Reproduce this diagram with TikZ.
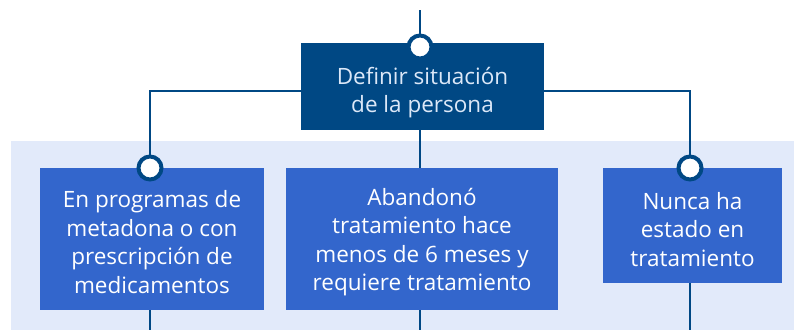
\documentclass[tikz,border=0pt]{standalone}
\usepackage{fontspec}
\setmainfont{Open Sans}
\definecolor{darkb}{HTML}{004884}
\definecolor{midb}{HTML}{3366CC}
\definecolor{bgb}{HTML}{E2EAFA}
\definecolor{lighttxt}{HTML}{DCE8F8}
\begin{document}
\begin{tikzpicture}[x=1pt,y=-1pt,
  conn/.style={draw=darkb,line width=2.6pt},
  boxa/.style={fill=darkb,inner sep=0pt},
  boxb/.style={fill=midb,inner sep=0pt},
  txta/.style={text=lighttxt,align=center,font=\fontsize{22.5}{28.5}\selectfont,inner sep=0pt},
  txtb/.style={text=white,align=center,font=\fontsize{22.5}{28.5}\selectfont,inner sep=0pt},
  knob/.style={circle,fill=white,draw=darkb,line width=4pt,minimum size=23pt,inner sep=0pt}]
\useasboundingbox (0,0) rectangle (794,330);
\fill[bgb] (11,141) rectangle (794,330);
\node[boxa,minimum width=243pt,minimum height=87pt] (top) at (422.5,86.5) {};
\node[boxb,minimum width=224pt,minimum height=142pt] (left) at (152,239) {};
\node[boxb,minimum width=272pt,minimum height=142pt] (mid) at (422,239) {};
\node[boxb,minimum width=179pt,minimum height=115pt] (right) at (692.5,225.5) {};
\node[txta] (toptxt) at ([yshift=-6pt]top.center) {Definir situación\\de la persona};
\node[txtb] (lefttxt) at ([yshift=-3pt]left.center) {En programas de\\metadona o con\\prescripción de\\medicamentos};
\node[txtb] (midtxt) at ([yshift=-3pt]mid.center) {Abandonó\\tratamiento hace\\menos de 6 meses y\\requiere tratamiento};
\node[txtb] (righttxt) at ([yshift=-4pt]right.center) {Nunca ha\\estado en\\tratamiento};
\coordinate (in) at (420,10);
\coordinate (lo) at (150,330);
\coordinate (mo) at (420,330);
\coordinate (ro) at (690,330);
\coordinate (topk) at (420,47);
\coordinate (leftk) at (150,168);
\coordinate (rightk) at (690,168);
\draw[conn] (in) -- (topk);
\draw[conn] (top.west |- 0,91) -| (leftk);
\draw[conn] (top.east |- 0,91) -| (rightk);
\draw[conn] (top.south -| 420,0) -- (mid.north -| 420,0);
\draw[conn] (left.south -| 150,0) -- (lo);
\draw[conn] (mid.south -| 420,0) -- (mo);
\draw[conn] (right.south -| 690,0) -- (ro);
\node[knob] (k1) at (topk) {};
\node[knob] (k2) at (leftk) {};
\node[knob] (k3) at (rightk) {};
\end{tikzpicture}
\end{document}
